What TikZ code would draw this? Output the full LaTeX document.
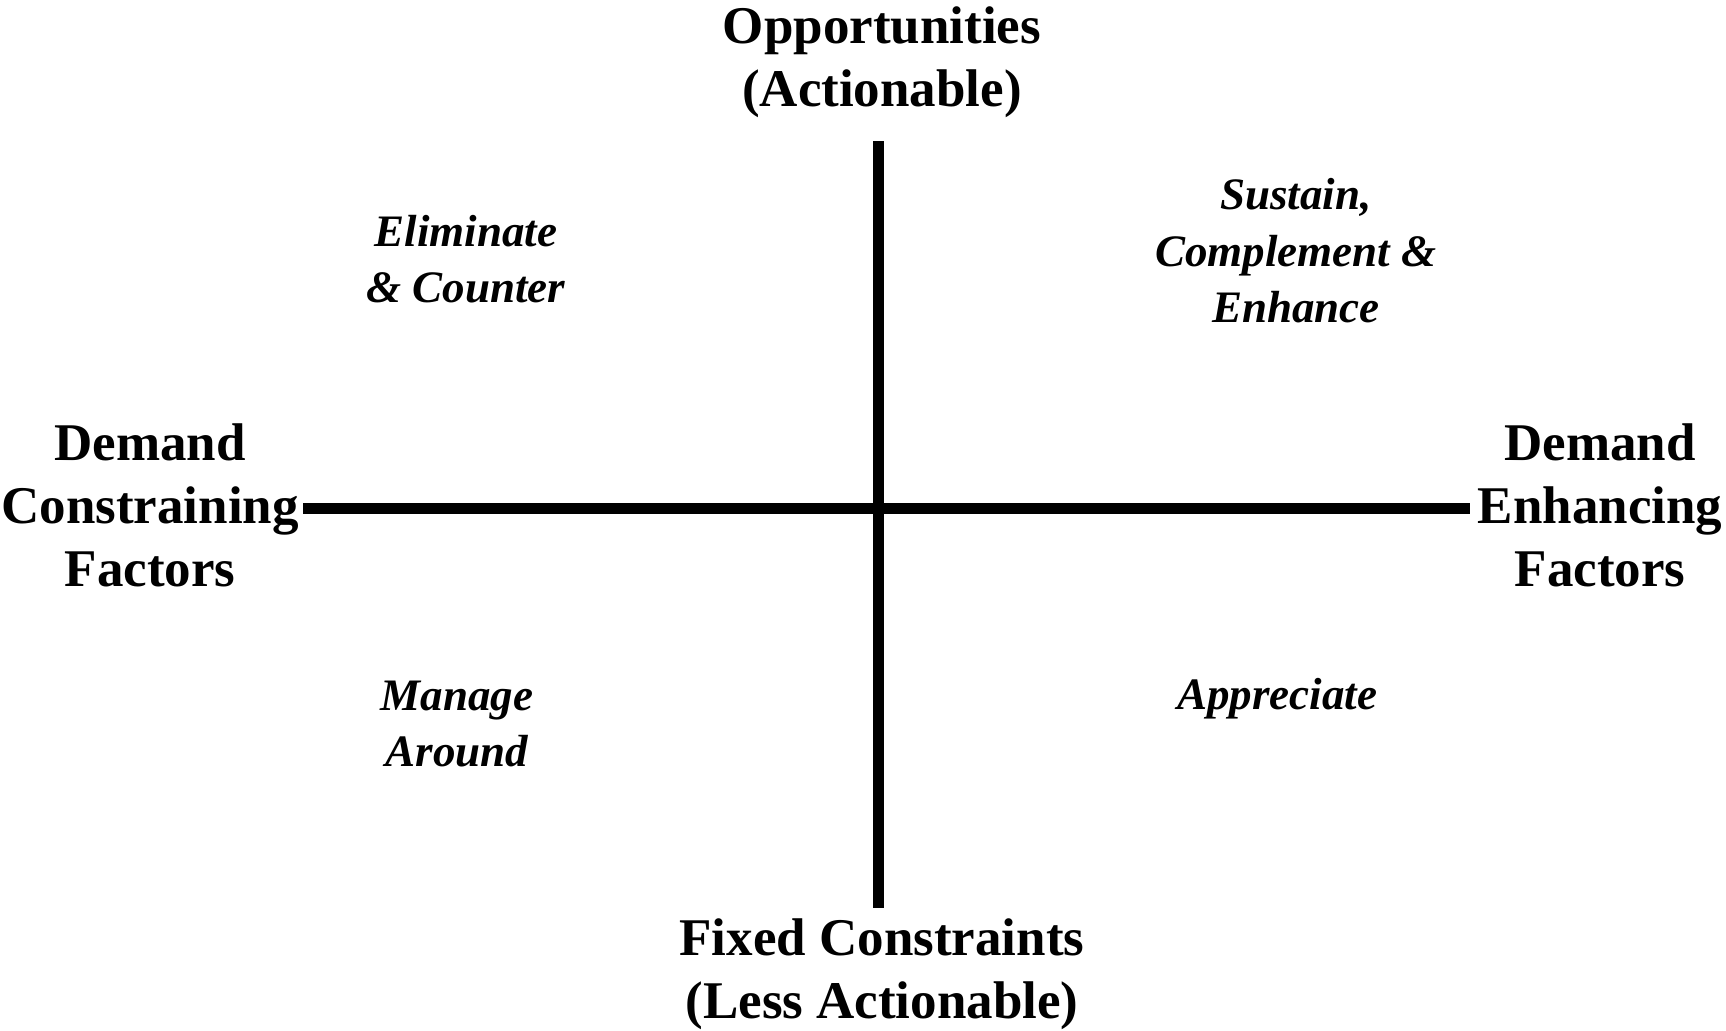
\documentclass[tikz,border=0pt]{standalone}
\usepackage{fontspec}
\setmainfont{Liberation Serif}
\usetikzlibrary{positioning}

\begin{document}
\begin{tikzpicture}[x=0.5pt,y=-0.5pt,
    axislabel/.style={font=\fontsize{26.5}{31.5}\selectfont\bfseries, align=center, inner sep=0pt},
    quadlabel/.style={font=\fontsize{22.5}{28.3}\selectfont\bfseries\itshape, align=center, inner sep=0pt},
    axisline/.style={line width=5.5pt}]
    \useasboundingbox (0,0) rectangle (1726,1030);

    % axis ends
    \coordinate (north) at (878.5,141);
    \coordinate (south) at (878.5,908);
    \coordinate (west) at (303,508.5);
    \coordinate (east) at (1470,508.5);

    \draw[axisline] (north) -- (south);
    \draw[axisline] (west) -- (east);

    % axis labels
    \node[axislabel] (opp) at (882,62) {Opportunities\\(Actionable)};
    \node[axislabel] (fixed) at (882,974) {Fixed Constraints\\(Less Actionable)};
    \node[axislabel] (constr) at (150,505) {Demand\\Constraining\\Factors};
    \node[axislabel] (enh) at (1600,505) {Demand\\Enhancing\\Factors};

    % quadrant labels
    \node[quadlabel] (elim) at (466,259) {Eliminate\\\& Counter};
    \node[quadlabel] (sust) at (1296,251) {Sustain,\\Complement \&\\Enhance};
    \node[quadlabel] (manage) at (457,724) {Manage\\Around};
    \node[quadlabel] (appr) at (1277,699) {Appreciate};
  \end{tikzpicture}
\end{document}
